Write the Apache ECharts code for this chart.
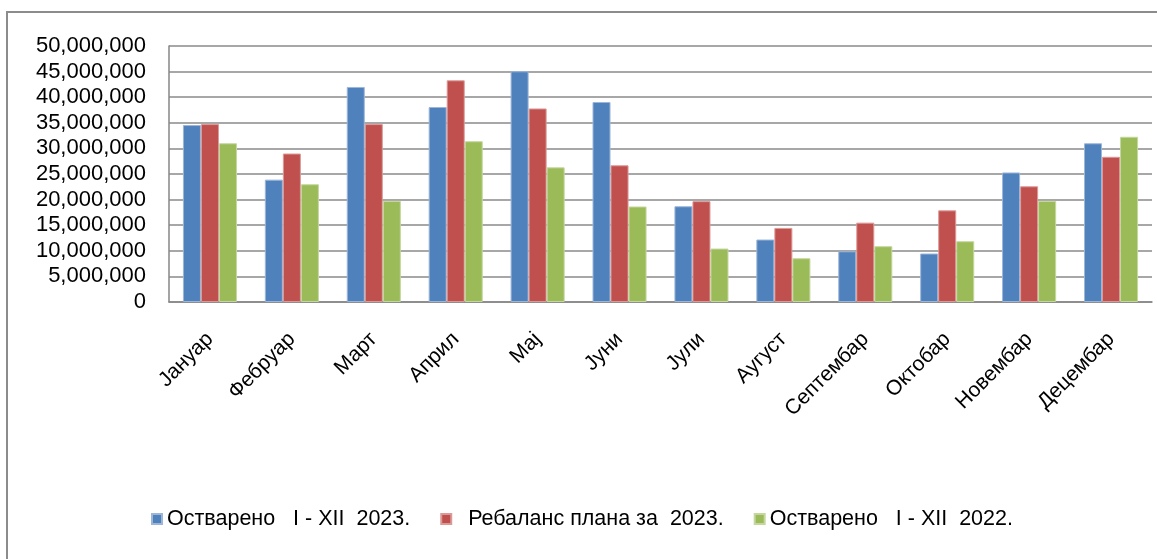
<!DOCTYPE html>
<html>
<head>
<meta charset="utf-8">
<script src="https://cdn.jsdelivr.net/npm/echarts@6/dist/echarts.min.js"></script>
<style>
html,body{margin:0;padding:0;background:#fff;}
#chart{width:1157px;height:559px;}
</style>
</head>
<body>
<div id="chart"></div>
<script>
const categories = ['Јануар','Фебруар','Март','Април','Мај','Јуни','Јули','Аугуст','Септембар','Октобар','Новембар','Децембар'];
const seriesNames = ['Остварено   I - XII  2023.', '  Ребаланс плана за  2023.', 'Остварено   I - XII  2022.'];
const realized2023 = [34560000, 23900000, 42000000, 38080000, 45060000, 39060000, 18700000, 12200000, 9900000, 9470000, 25300000, 31000000];
const plan2023 = [34750000, 29000000, 34750000, 43300000, 37800000, 26700000, 19700000, 14470000, 15500000, 17900000, 22600000, 28360000];
const realized2022 = [31000000, 23000000, 19750000, 31400000, 26300000, 18650000, 10440000, 8550000, 10900000, 11870000, 19750000, 32270000];
const yTicks = { min: 0, max: 50000000, interval: 5000000 };
const colors = ['#4F81BD', '#C0504D', '#9BBB59'];
const borders = ['#9DB6D8', '#DB9A98', '#C4D79E'];

const chart = echarts.init(document.getElementById('chart'), null, { renderer: 'canvas' });
const font = 'Liberation Sans';
const dataSets = [realized2023, plan2023, realized2022];

chart.setOption({
  animation: false,
  backgroundColor: '#fff',
  graphic: [{
    type: 'rect',
    shape: { x: 7, y: 12, width: 1170, height: 570 },
    style: { fill: 'none', stroke: '#8c8c8c', lineWidth: 2 },
    silent: true
  }],
  grid: { left: 169, top: 46, right: 5, bottom: 257, containLabel: false },
  legend: {
    left: 146, top: 503,
    itemWidth: 10, itemHeight: 10, itemGap: 30,
    icon: 'rect',
    textStyle: { fontFamily: font, fontSize: 21.5, color: '#000' },
    data: seriesNames
  },
  xAxis: {
    type: 'category',
    data: categories,
    axisLine: { lineStyle: { color: '#868686', width: 1.5 } },
    axisTick: { show: false },
    axisLabel: { rotate: 45, margin: 34, fontFamily: font, fontSize: 21, color: '#000', interval: 0 }
  },
  yAxis: {
    type: 'value',
    min: yTicks.min, max: yTicks.max, interval: yTicks.interval,
    axisLine: { show: true, lineStyle: { color: '#868686', width: 1.5 } },
    axisTick: { show: false },
    splitLine: { lineStyle: { color: '#8a8a8a', width: 1.5 } },
    axisLabel: {
      margin: 23, fontFamily: font, fontSize: 22, color: '#000',
      formatter: v => v.toLocaleString('en-US')
    }
  },
  series: dataSets.map((d, i) => ({
    name: seriesNames[i],
    type: 'bar',
    data: d,
    barGap: '0%',
    barCategoryGap: '34%',
    itemStyle: { color: colors[i], borderColor: borders[i], borderWidth: 1 }
  }))
});
</script>
</body>
</html>
